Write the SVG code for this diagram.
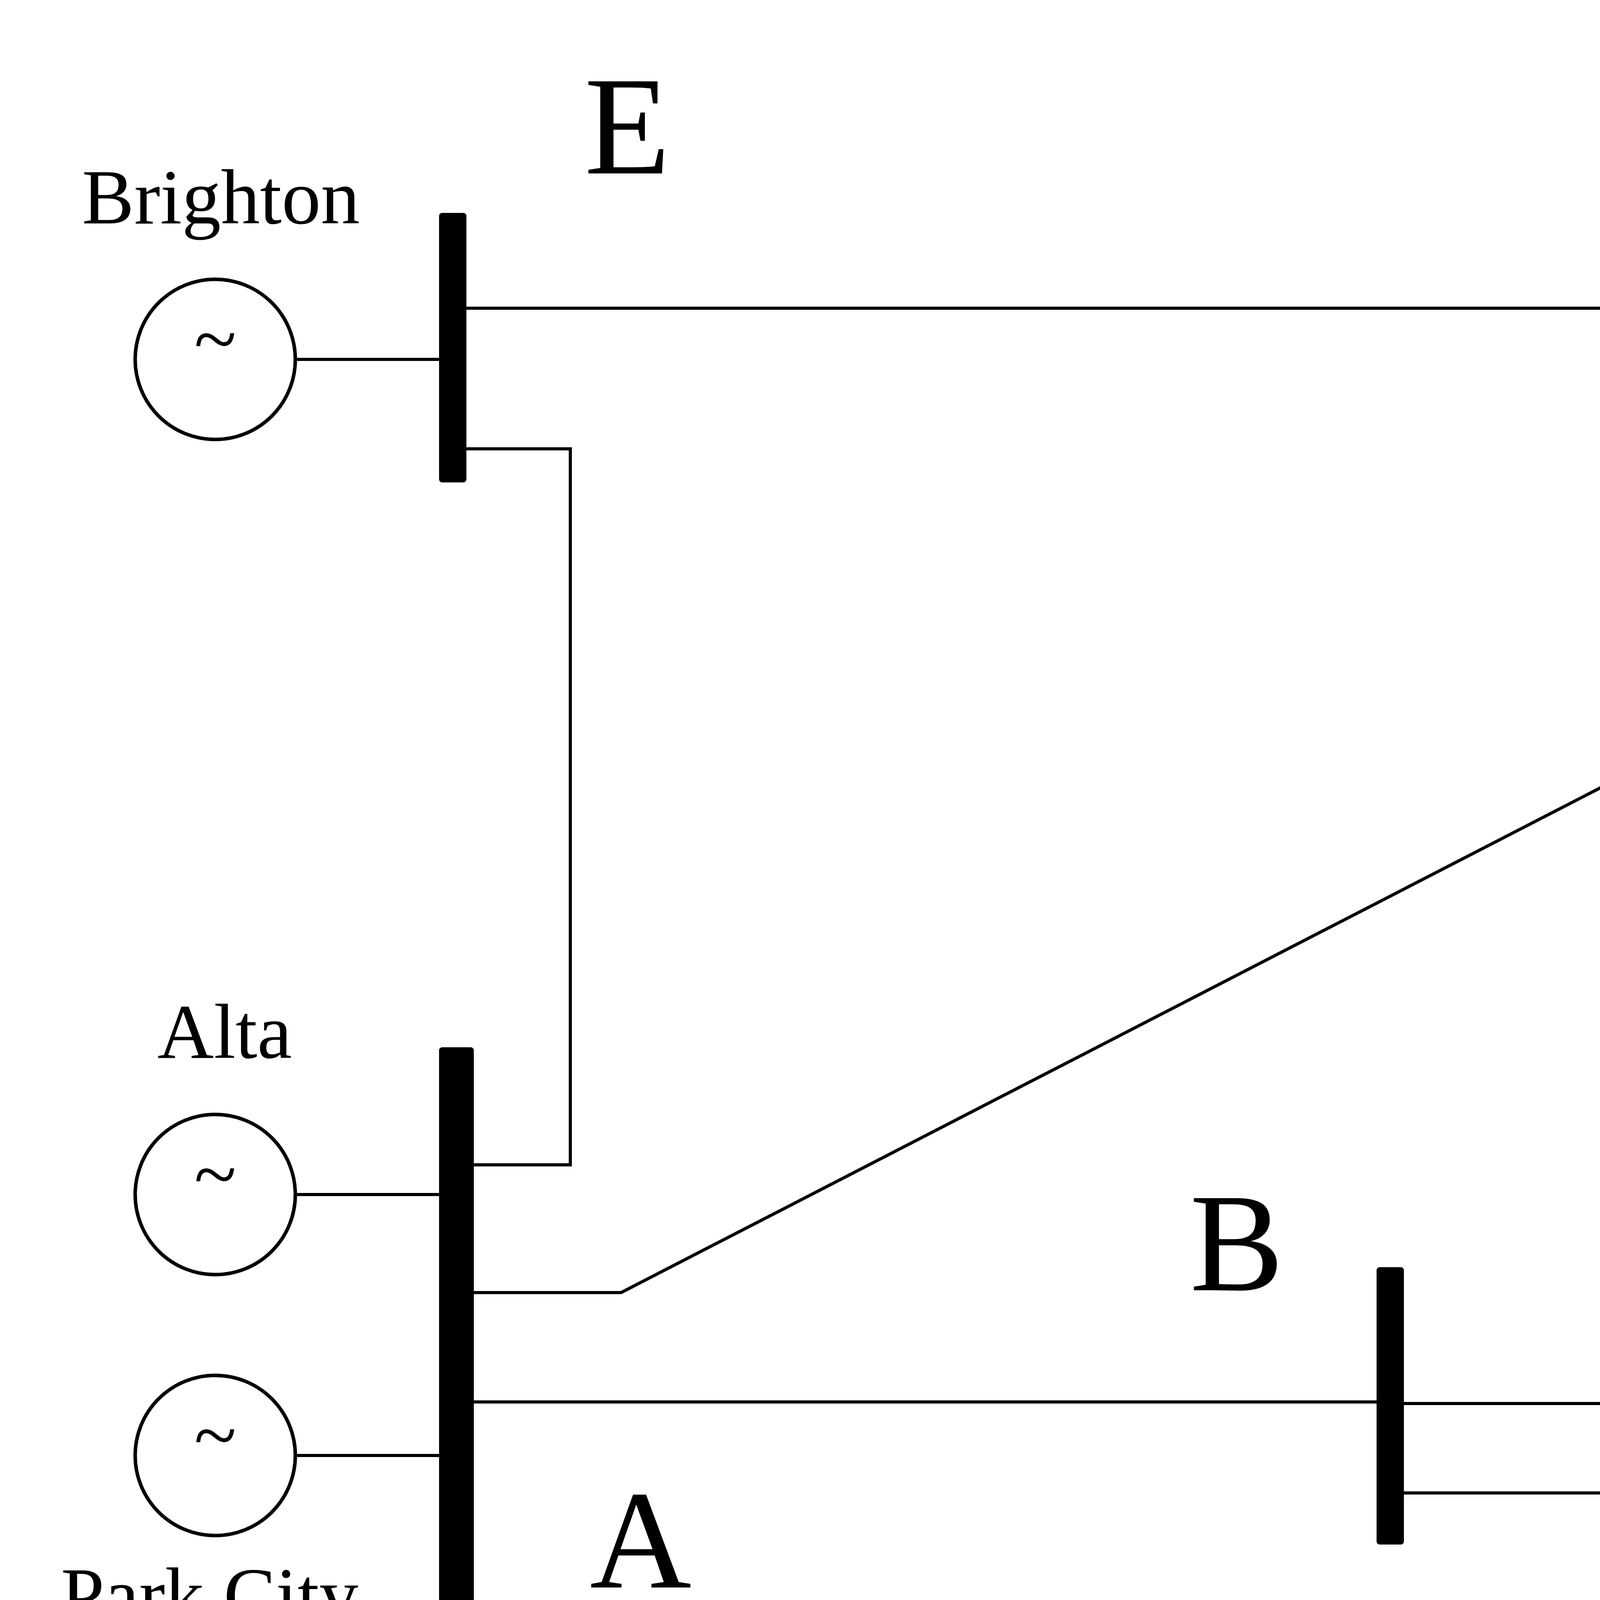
<svg xmlns="http://www.w3.org/2000/svg" width="7914" height="4626" viewBox="0 0 7914 4626">
<style>
.w{fill:none;stroke:#000;stroke-width:8}
.g{fill:#fff;stroke:#000;stroke-width:9}
.bus{fill:#000}
.t{font-family:"Liberation Serif",serif;font-size:200px;fill:#000}
.L{font-family:"Liberation Serif",serif;font-size:360px;fill:#000}
.s{font-family:"Liberation Serif",serif;font-size:200px;fill:#000;text-anchor:middle}
</style>
<rect width="7914" height="4626" fill="#fff"/>
<g id="connectors">
<path class="w" d="M1194 789H6586"/>
<path class="w" d="M1213 3309H1590L6130 969H6586"/>
<path class="w" d="M1194 1149H1460V2982H1213"/>
<path class="w" d="M6586 1052H6269V3149H6605"/>
<path class="w" d="M1213 3589H3524"/>
<path class="w" d="M3594 3593H6605"/>
<path class="w" d="M759 920H1124"/>
<path class="w" d="M759 3058H1124"/>
<path class="w" d="M759 3726H1124"/>
<path class="w" d="M6652 889H7127"/>
<path class="w" d="M6691 3449H7188"/>
<path class="w" d="M6652 1091H7003V1451"/>
<path class="w" d="M3594 3822H4163V4167"/>
<path class="w" d="M6605 3730H6002V4225"/>
</g>
<g id="busE"><rect class="bus" x="1124" y="545" width="70" height="690" rx="8"/><text class="L" x="1496" y="444">E</text></g>
<g id="busD"><rect class="bus" x="6586" y="545" width="66" height="686" rx="8"/><text class="L" x="6032" y="421">D</text></g>
<g id="busA"><rect class="bus" x="1124" y="2681" width="89" height="1470" rx="8"/><text class="L" x="1510" y="4064">A</text></g>
<g id="busB"><rect class="bus" x="3524" y="3244" width="70" height="710" rx="8"/><text class="L" x="3046" y="3303">B</text></g>
<g id="busC"><rect class="bus" x="6605" y="2684" width="86" height="1466" rx="8"/><text class="L" x="6989" y="4215">C</text></g>
<g id="genBrighton"><circle class="g" cx="551" cy="920" r="205"/><text class="s" x="551" y="935">~</text><text class="t" x="210" y="572">Brighton</text></g>
<g id="genAlta"><circle class="g" cx="551" cy="3058" r="205"/><text class="s" x="551" y="3073">~</text><text class="t" x="403" y="2708">Alta</text></g>
<g id="genParkCity"><circle class="g" cx="551" cy="3726" r="205"/><text class="s" x="551" y="3741">~</text><text class="t" x="156" y="4151">Park City</text></g>
<g id="genSundance"><circle class="g" cx="7331" cy="892" r="204"/><text class="s" x="7331" y="907">~</text><text class="t" x="6892" y="573">Sundance</text></g>
<g id="genSolitude"><circle class="g" cx="7392" cy="3449" r="203"/><text class="s" x="7392" y="3464">~</text><text class="t" x="7098" y="3072">Solitude</text></g>
<g id="loadD"><path class="g" d="M6871 1451H7226L7047 1805Z"/></g>
<g id="loadB"><path class="g" d="M4024 4167H4382L4204 4525Z"/></g>
<g id="loadC"><path class="g" d="M5863 4225H6225L6044 4583Z"/></g>
</svg>
